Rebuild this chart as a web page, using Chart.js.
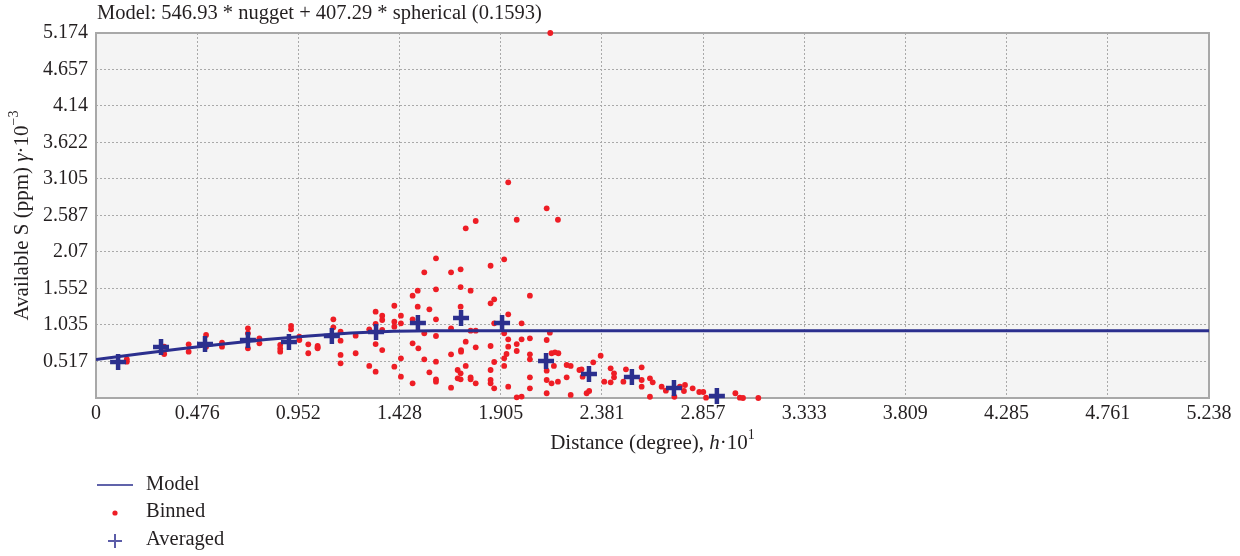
<!DOCTYPE html>
<html>
<head>
<meta charset="utf-8">
<script src="https://cdn.jsdelivr.net/npm/chart.js@4.4.0/dist/chart.umd.min.js"></script>
<style>
  html, body { margin: 0; padding: 0; background: #fff; }
  #wrap { width: 1240px; height: 556px; position: relative; }
</style>
</head>
<body>
<div id="wrap"><canvas id="variogram" width="1240" height="556"></canvas></div>
<script>
const chartTitle = 'Model: 546.93 * nugget + 407.29 * spherical (0.1593)';
const legendLabels = ['Model', 'Binned', 'Averaged'];

const xTicks = [0, 0.476, 0.952, 1.428, 1.905, 2.381, 2.857, 3.333, 3.809, 4.285, 4.761, 5.238];
const yTicks = [0.517, 1.035, 1.552, 2.07, 2.587, 3.105, 3.622, 4.14, 4.657, 5.174];

// model curve
const modelX = [0, 0.2, 0.4, 0.6, 0.8, 1.0, 1.2, 1.4, 1.593, 5.238];
const modelY = [0.547, 0.623, 0.697, 0.766, 0.828, 0.880, 0.920, 0.945, 0.954, 0.954];

// averaged (crosses)
const averagedX = [0.104, 0.306, 0.513, 0.715, 0.908, 1.11, 1.318, 1.515, 1.718, 1.911, 2.118, 2.32, 2.522, 2.72, 2.922];
const averagedY = [0.51, 0.723, 0.765, 0.822, 0.794, 0.879, 0.935, 1.063, 1.134, 1.063, 0.524, 0.34, 0.298, 0.142, 0.028];

// binned (red dots), [distance, gamma]
const binned = [
  [0.145, 0.55], [0.145, 0.515], [0.321, 0.727], [0.321, 0.624], [0.436, 0.761], [0.436, 0.657],
  [0.518, 0.893], [0.518, 0.727], [0.593, 0.784], [0.593, 0.727], [0.715, 0.988], [0.715, 0.917],
  [0.715, 0.704], [0.769, 0.846], [0.769, 0.775], [0.867, 0.751], [0.867, 0.657], [0.867, 0.70],
  [0.918, 1.021], [0.918, 0.974], [0.957, 0.869], [0.957, 0.822], [0.999, 0.761], [0.999, 0.634],
  [1.043, 0.737], [1.043, 0.704], [1.043, 0.72],
  [1.117, 1.115], [1.117, 1.002], [1.151, 0.940], [1.151, 0.812], [1.151, 0.610], [1.151, 0.492],
  [1.222, 0.883], [1.222, 0.634], [1.286, 0.974], [1.286, 0.454],
  [1.316, 1.223], [1.316, 1.049], [1.316, 0.765], [1.316, 0.373],
  [1.347, 1.167], [1.347, 1.106], [1.347, 0.964], [1.347, 0.680],
  [1.404, 1.308], [1.404, 1.082], [1.404, 1.011], [1.404, 0.444],
  [1.435, 1.167], [1.435, 1.059], [1.435, 0.563], [1.435, 0.302],
  [1.490, 1.450], [1.490, 1.115], [1.490, 0.775], [1.490, 0.208],
  [1.514, 1.521], [1.514, 1.294], [1.517, 0.704],
  [1.545, 1.782], [1.545, 0.917], [1.545, 0.548], [1.569, 1.257], [1.569, 0.364],
  [1.600, 1.980], [1.600, 1.541], [1.600, 1.115], [1.600, 0.879], [1.600, 0.515], [1.600, 0.265], [1.600, 0.231],
  [1.671, 1.782], [1.671, 0.988], [1.671, 0.619], [1.671, 0.146], [1.702, 0.279], [1.702, 0.397],
  [1.716, 1.824], [1.716, 1.573], [1.716, 1.294], [1.718, 0.680], [1.718, 0.657], [1.716, 0.350], [1.716, 0.265],
  [1.740, 2.405], [1.740, 0.798], [1.740, 0.454],
  [1.763, 1.521], [1.763, 0.954], [1.763, 0.293], [1.763, 0.265],
  [1.787, 2.509], [1.787, 0.954], [1.787, 0.718], [1.787, 0.208],
  [1.857, 1.875], [1.857, 1.342], [1.857, 0.737], [1.857, 0.397], [1.857, 0.255], [1.857, 0.208],
  [1.874, 1.399], [1.874, 1.059], [1.874, 0.510], [1.874, 0.137],
  [1.921, 1.966], [1.921, 0.917], [1.921, 0.563], [1.921, 0.454], [1.932, 0.624],
  [1.940, 3.057], [1.940, 1.186], [1.940, 0.832], [1.940, 0.727], [1.940, 0.160],
  [1.980, 2.527], [1.980, 0.765], [1.980, 0.666], [1.980, 0.01],
  [2.003, 1.059], [2.003, 0.832], [2.003, 0.02],
  [2.042, 1.450], [2.042, 0.846], [2.042, 0.619], [2.042, 0.548], [2.042, 0.293], [2.042, 0.137],
  [2.121, 2.689], [2.121, 0.822], [2.121, 0.387], [2.121, 0.255], [2.121, 0.067],
  [2.138, 5.174], [2.136, 0.926], [2.144, 0.634], [2.144, 0.208], [2.16, 0.648],
  [2.174, 2.527], [2.176, 0.634], [2.155, 0.454], [2.174, 0.231],
  [2.215, 0.468], [2.215, 0.293], [2.234, 0.454], [2.234, 0.043],
  [2.275, 0.397], [2.285, 0.406], [2.29, 0.302], [2.309, 0.067], [2.321, 0.099],
  [2.340, 0.506], [2.375, 0.600], [2.392, 0.231], [2.422, 0.421], [2.422, 0.222],
  [2.438, 0.350], [2.438, 0.293], [2.482, 0.231], [2.494, 0.406],
  [2.568, 0.435], [2.568, 0.255], [2.568, 0.160], [2.607, 0.279], [2.62, 0.222], [2.607, 0.018],
  [2.662, 0.160], [2.682, 0.104], [2.722, 0.018], [2.748, 0.160], [2.772, 0.184], [2.767, 0.099],
  [2.808, 0.137], [2.839, 0.085], [2.858, 0.085], [2.871, 0.005],
  [3.009, 0.067], [3.03, 0.005], [3.045, 0.0], [3.117, 0.0]
];

const serif = "'Liberation Serif', 'DejaVu Serif', serif";
const navy = '#2b2f8e';
const red = '#ee1d25';
const textColor = '#231f20';

// draws a list of text pieces centred on (x, y)
function drawRuns(ctx, runs, x, y, size) {
  const fontFor = r => r.sup ? `${Math.round(size * 0.65)}px ${serif}` : `${r.italic ? 'italic ' : ''}${size}px ${serif}`;
  let total = 0;
  runs.forEach(r => { ctx.font = fontFor(r); total += ctx.measureText(r.t).width; });
  let cx = x - total / 2;
  ctx.textBaseline = 'middle';
  ctx.textAlign = 'left';
  runs.forEach(r => {
    ctx.font = fontFor(r);
    ctx.fillText(r.t, cx, r.sup ? y - size * 0.35 : y);
    cx += ctx.measureText(r.t).width;
  });
}

const framePlugin = {
  id: 'framePlugin',
  beforeDraw(chart) {
    const { ctx, chartArea: a } = chart;
    ctx.save();
    ctx.fillStyle = '#f4f4f4';
    ctx.fillRect(a.left, a.top, a.right - a.left, a.bottom - a.top);
    ctx.restore();
  },
  beforeDatasetsDraw(chart) {
    const { ctx, chartArea: a } = chart;
    ctx.save();
    ctx.strokeStyle = '#a8a8a8';
    ctx.lineWidth = 2;
    ctx.strokeRect(a.left, a.top, a.right - a.left, a.bottom - a.top);
    ctx.restore();
  },
  afterDraw(chart) {
    const { ctx, chartArea: a } = chart;
    ctx.save();
    ctx.fillStyle = textColor;

    // title
    ctx.font = `20.5px ${serif}`;
    ctx.textAlign = 'left';
    ctx.textBaseline = 'middle';
    ctx.fillText(chartTitle, a.left + 1, 14);

    // x axis title
    drawRuns(ctx, [
      { t: 'Distance (degree), ' }, { t: 'h', italic: true }, { t: '·10' }, { t: '1', sup: true }
    ], (a.left + a.right) / 2, 443, 21);

    // y axis title
    ctx.save();
    ctx.translate(22, (a.top + a.bottom) / 2);
    ctx.rotate(-Math.PI / 2);
    drawRuns(ctx, [
      { t: 'Available S (ppm) ' }, { t: 'γ', italic: true }, { t: '·10' }, { t: '−3', sup: true }
    ], 0, 0, 21);
    ctx.restore();

    // legend
    const lx = 97, tx = 146, rows = [485, 512, 540];
    ctx.strokeStyle = navy;
    ctx.lineWidth = 1.5;
    ctx.beginPath();
    ctx.moveTo(lx, rows[0]);
    ctx.lineTo(lx + 36, rows[0]);
    ctx.stroke();

    ctx.fillStyle = red;
    ctx.beginPath();
    ctx.arc(115, rows[1] + 1, 2.6, 0, Math.PI * 2);
    ctx.fill();

    ctx.strokeStyle = '#5b5ca8';
    ctx.lineWidth = 2;
    ctx.beginPath();
    ctx.moveTo(108, rows[2] + 1); ctx.lineTo(122, rows[2] + 1);
    ctx.moveTo(115, rows[2] - 6); ctx.lineTo(115, rows[2] + 8);
    ctx.stroke();

    ctx.fillStyle = textColor;
    ctx.font = `20.5px ${serif}`;
    ctx.textAlign = 'left';
    ctx.textBaseline = 'middle';
    legendLabels.forEach((label, i) => ctx.fillText(label, tx, rows[i]));
    ctx.restore();
  }
};

const ctx = document.getElementById('variogram').getContext('2d');
new Chart(ctx, {
  type: 'scatter',
  data: {
    datasets: [
      {
        label: 'Averaged',
        data: averagedX.map((x, i) => ({ x, y: averagedY[i] })),
        pointStyle: 'cross',
        pointRadius: 8,
        borderColor: navy,
        borderWidth: 4.5,
        clip: false,
        order: 0
      },
      {
        label: 'Model',
        data: modelX.map((x, i) => ({ x, y: modelY[i] })),
        showLine: true,
        borderColor: navy,
        borderWidth: 3,
        pointRadius: 0,
        order: 1
      },
      {
        label: 'Binned',
        data: binned.map(p => ({ x: p[0], y: p[1] })),
        pointStyle: 'circle',
        pointRadius: 2.9,
        backgroundColor: red,
        borderWidth: 0,
        clip: false,
        order: 2
      }
    ]
  },
  options: {
    responsive: false,
    animation: false,
    devicePixelRatio: 1,
    layout: { padding: { top: 33, right: 31, bottom: 0, left: 0 } },
    plugins: {
      legend: { display: false },
      tooltip: { enabled: false }
    },
    scales: {
      x: {
        type: 'linear',
        min: 0,
        max: 5.238,
        afterBuildTicks: scale => { scale.ticks = xTicks.map(v => ({ value: v })); },
        afterFit: scale => { scale.height = 158; },
        ticks: {
          autoSkip: false,
          maxRotation: 0,
          padding: 4,
          color: textColor,
          font: { family: serif, size: 20 },
          callback: v => String(v)
        },
        grid: { color: '#a9a9a9', drawTicks: false, lineWidth: 1 },
        border: { display: false, dash: [2, 2] }
      },
      y: {
        type: 'linear',
        min: 0,
        max: 5.174,
        afterBuildTicks: scale => { scale.ticks = yTicks.map(v => ({ value: v })); },
        afterFit: scale => { scale.width = 96; },
        ticks: {
          autoSkip: false,
          padding: 8,
          color: textColor,
          font: { family: serif, size: 20 },
          callback: v => String(v)
        },
        grid: { color: '#a9a9a9', drawTicks: false, lineWidth: 1 },
        border: { display: false, dash: [2, 2] }
      }
    }
  },
  plugins: [framePlugin]
});
</script>
</body>
</html>
